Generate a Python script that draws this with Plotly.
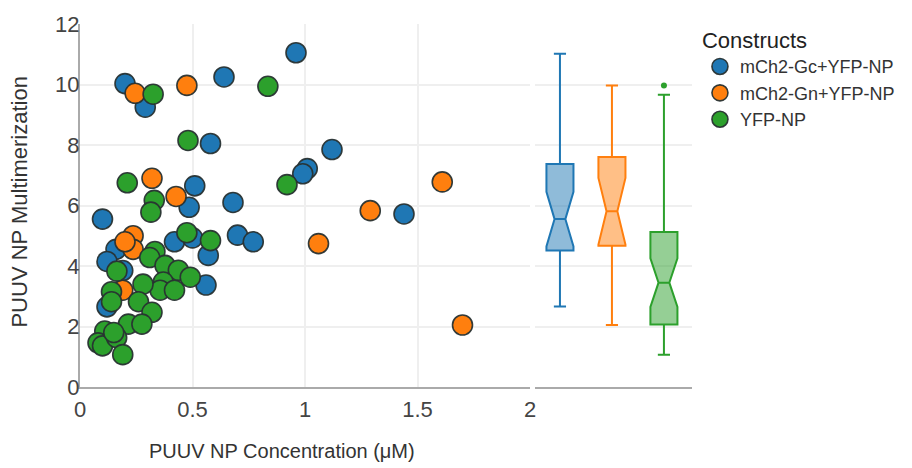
import plotly.graph_objects as go

# ---- data ----
gc_x = [0.96, 0.20, 0.64, 0.29, 0.58, 1.12, 1.01, 0.99, 0.68, 0.51, 0.485, 0.10,
        1.44, 0.70, 0.77, 0.42, 0.50, 0.57, 0.56, 0.16, 0.12, 0.12, 0.19]
gc_y = [11.05, 10.03, 10.25, 9.25, 8.05, 7.85, 7.22, 7.05, 6.10, 6.65, 5.94, 5.55,
        5.72, 5.02, 4.80, 4.80, 4.93, 4.35, 3.37, 4.55, 4.15, 2.65, 3.85]

gn_x = [0.245, 0.475, 0.32, 0.427, 1.61, 1.29, 1.06, 1.70, 0.236, 0.236, 0.19, 0.20]
gn_y = [9.71, 9.97, 6.90, 6.30, 6.78, 5.83, 4.74, 2.05, 5.00, 4.55, 3.20, 4.80]

yfp_x = [0.325, 0.835, 0.48, 0.92, 0.21, 0.33, 0.315, 0.475, 0.58, 0.333, 0.31,
         0.378, 0.437, 0.49, 0.37, 0.356, 0.42, 0.28, 0.164, 0.14, 0.14, 0.26,
         0.32, 0.215, 0.275, 0.11, 0.08, 0.10, 0.163, 0.15, 0.19]
yfp_y = [9.68, 9.94, 8.15, 6.69, 6.75, 6.17, 5.78, 5.10, 4.84, 4.48, 4.28,
         4.02, 3.86, 3.63, 3.47, 3.20, 3.20, 3.40, 3.83, 3.15, 2.82, 2.82,
         2.47, 2.08, 2.08, 1.85, 1.46, 1.36, 1.63, 1.80, 1.07]

names = ["mCh2-Gc+YFP-NP", "mCh2-Gn+YFP-NP", "YFP-NP"]
colors = ["#1f77b4", "#ff7f0e", "#2ca02c"]
fills = ["rgba(31,119,180,0.5)", "rgba(255,127,14,0.5)", "rgba(44,160,44,0.5)"]

# box-plot summary statistics (per construct)
box_lower = [2.66, 2.05, 1.07]
box_q1 = [4.51, 4.67, 2.07]
box_median = [5.55, 5.81, 3.45]
box_q3 = [7.37, 7.60, 5.12]
box_upper = [11.02, 9.97, 9.66]
box_notch = [0.90, 1.10, 0.80]
outlier_box = [2]
outlier_y = [9.97]

x_ticks = [0, 0.5, 1, 1.5, 2]
x_ticklabels = ["0", "0.5", "1", "1.5", "2"]
y_ticks = [0, 2, 4, 6, 8, 10, 12]

FONT = "Liberation Sans, Arial, sans-serif"
OUTLINE = "rgba(40,50,50,0.95)"

fig = go.Figure()
for xs, ys, nm, c in [(gc_x, gc_y, names[0], colors[0]),
                      (gn_x, gn_y, names[1], colors[1]),
                      (yfp_x, yfp_y, names[2], colors[2])]:
    fig.add_trace(go.Scatter(
        x=xs, y=ys, mode="markers", name=nm,
        marker=dict(size=20, color=c, line=dict(color=OUTLINE, width=1.6)),
        xaxis="x", yaxis="y"))

for i in range(3):
    fig.add_trace(go.Box(
        x=[i], q1=[box_q1[i]], median=[box_median[i]], q3=[box_q3[i]],
        lowerfence=[box_lower[i]], upperfence=[box_upper[i]],
        notched=True, notchspan=[box_notch[i]], notchwidth=0.3,
        width=0.52, whiskerwidth=0.45,
        line=dict(color=colors[i], width=2), fillcolor=fills[i],
        showlegend=False, name=names[i], xaxis="x2", yaxis="y2"))

fig.add_trace(go.Scatter(
    x=outlier_box, y=outlier_y, mode="markers", showlegend=False,
    marker=dict(size=6, color=colors[2]), xaxis="x2", yaxis="y2"))

W, H = 912, 468
L, R, T, B = 80, 220, 17, 81
pw = W - L - R
ph = H - T - B
split = 450 / pw
gap = 455 / pw

fig.update_layout(
    width=W, height=H,
    margin=dict(l=L, r=R, t=T, b=B),
    paper_bgcolor="white", plot_bgcolor="white",
    font=dict(family=FONT, size=20, color="#333"),
    xaxis=dict(domain=[0, split], range=[0, 2], tickvals=x_ticks,
               ticktext=x_ticklabels, showline=True, linecolor="#aaa",
               linewidth=2, showgrid=True, gridcolor="#efefef", gridwidth=1.5,
               zeroline=False, ticks="", tickfont=dict(size=22, color="#444"),
               ticklabelstandoff=2),
    yaxis=dict(range=[0, 12], tickvals=y_ticks, showline=True, linecolor="#aaa",
               linewidth=2, showgrid=True, gridcolor="#efefef", gridwidth=1.5,
               zeroline=False, ticks="", tickfont=dict(size=22, color="#444"),
               ticklabelstandoff=-6),
    xaxis2=dict(domain=[gap, 1], range=[-0.48, 2.54], showticklabels=False,
                showline=True, linecolor="#aaa", linewidth=2, showgrid=False,
                zeroline=False, ticks=""),
    yaxis2=dict(anchor="x2", matches="y", range=[0, 12], tickvals=y_ticks,
                showticklabels=False, showline=False, showgrid=True,
                gridcolor="#efefef", gridwidth=1.5, zeroline=False, ticks=""),
    legend=dict(x=1.013, y=1.012, xanchor="left", yanchor="top",
                title=dict(text="Constructs", font=dict(size=22, color="#222")),
                font=dict(size=18, color="#333"), bgcolor="rgba(0,0,0,0)",
                tracegroupgap=0),
    annotations=[
        dict(text="PUUV NP Concentration (μM)", xref="paper", yref="paper",
             x=(282 - L) / pw, y=-(452 - (H - B)) / ph, xanchor="center",
             yanchor="middle", showarrow=False,
             font=dict(size=20, color="#333")),
        dict(text="PUUV NP Multimerization", xref="paper", yref="paper",
             x=(20 - L) / pw, y=1 - (199 - T) / ph, xanchor="center",
             yanchor="middle", textangle=-90, showarrow=False,
             font=dict(size=22, color="#333")),
    ],
)

fig.write_html("out.html")
